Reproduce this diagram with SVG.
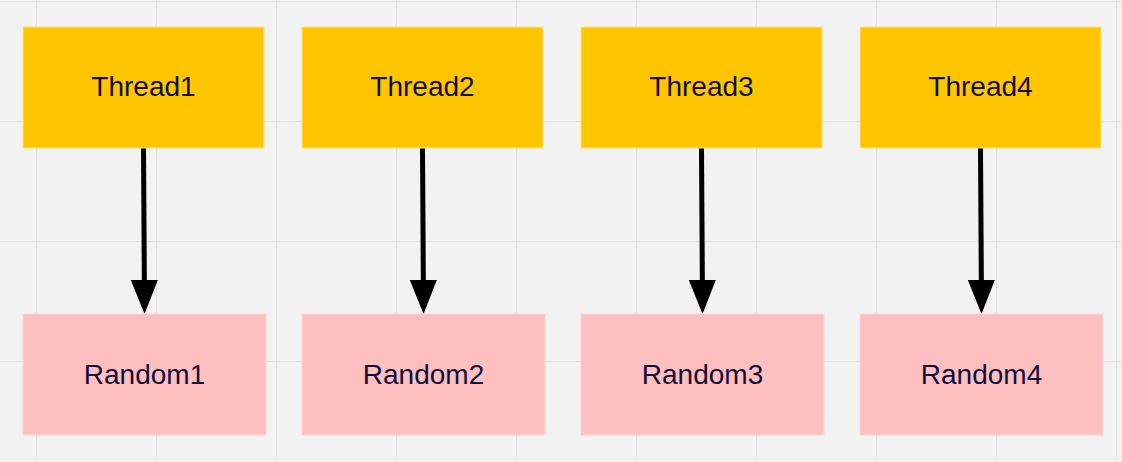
<svg xmlns="http://www.w3.org/2000/svg" width="1122" height="462" viewBox="0 0 1122 462">
<defs>
<pattern id="grid" x="36" y="1" width="120" height="120" patternUnits="userSpaceOnUse">
<path d="M0 0H120M0 0V120" fill="none" stroke="#e2e2e2" stroke-width="2"/>
</pattern>
<marker id="arr" viewBox="0 0 34 27" refX="10" refY="13.5" markerWidth="34" markerHeight="27" markerUnits="userSpaceOnUse" orient="auto">
<path d="M0 0L34 13.5L0 27Z" fill="#000"/>
</marker>
<style>
.t{fill:#ffc600;stroke:#ffe08a;stroke-width:1}
.r{fill:#ffbfbf;stroke:#ffd4d4;stroke-width:1}
text{font-family:"Liberation Sans",Arial,sans-serif;font-size:28px;fill:#0f0f3c;text-anchor:middle}
.c{stroke:#000;stroke-width:5;fill:none}
</style>
</defs>
<rect width="1122" height="462" fill="#f2f2f2"/>
<rect width="1122" height="462" fill="url(#grid)"/>
<g id="connectors">
<line class="c" x1="143.5" y1="148" x2="144.4" y2="290" marker-end="url(#arr)"/>
<line class="c" x1="422.5" y1="148" x2="423.4" y2="290" marker-end="url(#arr)"/>
<line class="c" x1="701.5" y1="148" x2="702.4" y2="290" marker-end="url(#arr)"/>
<line class="c" x1="980.5" y1="148" x2="981.4" y2="290" marker-end="url(#arr)"/>
</g>
<g id="thread1"><rect class="t" x="23" y="27" width="241" height="121"/><text x="143.5" y="96">Thread1</text></g>
<g id="thread2"><rect class="t" x="302" y="27" width="241" height="121"/><text x="422.5" y="96">Thread2</text></g>
<g id="thread3"><rect class="t" x="581" y="27" width="241" height="121"/><text x="701.5" y="96">Thread3</text></g>
<g id="thread4"><rect class="t" x="860" y="27" width="241" height="121"/><text x="980.5" y="96">Thread4</text></g>
<g id="random1"><rect class="r" x="23" y="314" width="243" height="121"/><text x="144.5" y="384">Random1</text></g>
<g id="random2"><rect class="r" x="302" y="314" width="243" height="121"/><text x="423.5" y="384">Random2</text></g>
<g id="random3"><rect class="r" x="581" y="314" width="243" height="121"/><text x="702.5" y="384">Random3</text></g>
<g id="random4"><rect class="r" x="860" y="314" width="243" height="121"/><text x="981.5" y="384">Random4</text></g>
</svg>
